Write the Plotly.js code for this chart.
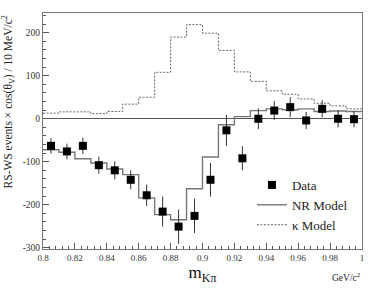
<!DOCTYPE html>
<html>
<head>
<meta charset="utf-8">
<script src="https://cdn.plot.ly/plotly-3.0.1.min.js"></script>
<style>html,body{margin:0;padding:0;background:#fff}#chart{width:371px;height:288px}</style>
</head>
<body>
<div id="chart"></div>
<script>
// bin centres (GeV/c^2)
const binCenters = [0.805,0.815,0.825,0.835,0.845,0.855,0.865,0.875,0.885,0.895,0.905,0.915,0.925,0.935,0.945,0.955,0.965,0.975,0.985,0.995];
// data points
const dataValues = [-63,-76,-63,-108,-120,-142,-178,-216,-251,-226,-142,-27,-92,0,19,27,-4,23,0,-1];
const dataErrors = [18,18,19,20,21,22,25,35,40,40,39,36,28,24,22,23,20,20,20,19];
// NR model histogram
const nrModel = [-72,-78,-93,-103,-117,-130,-184,-223,-235,-163,-89,-14,5,19,23,21,23,17,18,17];
// kappa model histogram
const kappaModel = [13,16,16,12,17,34,50,108,190,219,199,159,109,87,65,57,46,36,30,23];
// tick labels
const xTickVals = [0.8,0.82,0.84,0.86,0.88,0.9,0.92,0.94,0.96,0.98,1];
const xTickText = ["0.8","0.82","0.84","0.86","0.88","0.9","0.92","0.94","0.96","0.98","1"];
const yTickVals = [-300,-200,-100,0,100,200];
const yTickText = ["-300","-200","-100","0","100","200"];

const binWidth = 0.01;
function stepX(c){ const e = c.map(v => +(v - binWidth/2).toFixed(4)); e.push(+(c[c.length-1] + binWidth/2).toFixed(4)); return e; }
function stepY(v){ return v.concat([v[v.length-1]]); }

const font = "Liberation Serif, Times New Roman, serif";

const traces = [
  {x: stepX(binCenters), y: stepY(kappaModel), mode: 'lines', name: 'κ Model',
   line: {shape: 'hv', color: '#666', width: 1, dash: '2px,1.5px'}},
  {x: stepX(binCenters), y: stepY(nrModel), mode: 'lines', name: 'NR Model',
   line: {shape: 'hv', color: '#777', width: 1.4}},
  {x: binCenters, y: dataValues, mode: 'markers', name: 'Data',
   marker: {symbol: 'square', size: 8, color: '#000'},
   error_y: {type: 'data', array: dataErrors, visible: true, color: '#333', thickness: 1, width: 0}}
];

const layout = {
  width: 371, height: 288,
  margin: {l: 43, r: 9, t: 13, b: 39},
  paper_bgcolor: '#fff', plot_bgcolor: '#fff',
  font: {family: font, color: '#222'},
  showlegend: true,
  legend: {x: 0.655, y: 0.335, xanchor: 'left', yanchor: 'top', traceorder: 'reversed',
           font: {family: font, size: 13, color: '#222'}, bgcolor: 'rgba(0,0,0,0)', itemwidth: 30},
  xaxis: {range: [0.8, 1.0], tickmode: 'array', tickvals: xTickVals, ticktext: xTickText,
          ticks: 'inside', ticklen: 6, tickcolor: '#555', showgrid: false, zeroline: false,
          showline: true, linecolor: '#777', linewidth: 1, mirror: true,
          tickfont: {family: font, size: 9, color: '#333'},
          minor: {tickmode: 'linear', tick0: 0.8, dtick: 0.004, ticks: 'inside', ticklen: 3, tickcolor: '#555', showgrid: false},
          title: {text: 'm<sub>Kπ</sub>', font: {family: font, size: 17, color: '#111'}, standoff: 4}},
  yaxis: {range: [-303, 246], tickmode: 'array', tickvals: yTickVals, ticktext: yTickText,
          ticks: 'inside', ticklen: 6, tickcolor: '#555', showgrid: false,
          zeroline: true, zerolinecolor: '#555', zerolinewidth: 1,
          showline: true, linecolor: '#777', linewidth: 1, mirror: true,
          tickfont: {family: font, size: 9.5, color: '#333'},
          minor: {tickmode: 'linear', tick0: 0, dtick: 20, ticks: 'inside', ticklen: 3, tickcolor: '#555', showgrid: false}},
  annotations: [
    {text: 'RS-WS events × cos(θ<sub>V</sub>) / 10 MeV/c<sup>2</sup>', textangle: -90,
     xref: 'paper', yref: 'paper', x: -0.11, y: 1.0, xanchor: 'center', yanchor: 'top',
     showarrow: false, font: {family: font, size: 11.5, color: '#222'}},
    {text: 'GeV/c<sup>2</sup>', xref: 'paper', yref: 'paper', x: 1.0, y: -0.085,
     xanchor: 'right', yanchor: 'top', showarrow: false, font: {family: font, size: 9.5, color: '#222'}}
  ]
};

Plotly.newPlot('chart', traces, layout, {displayModeBar: false, staticPlot: true});
</script>
</body>
</html>
